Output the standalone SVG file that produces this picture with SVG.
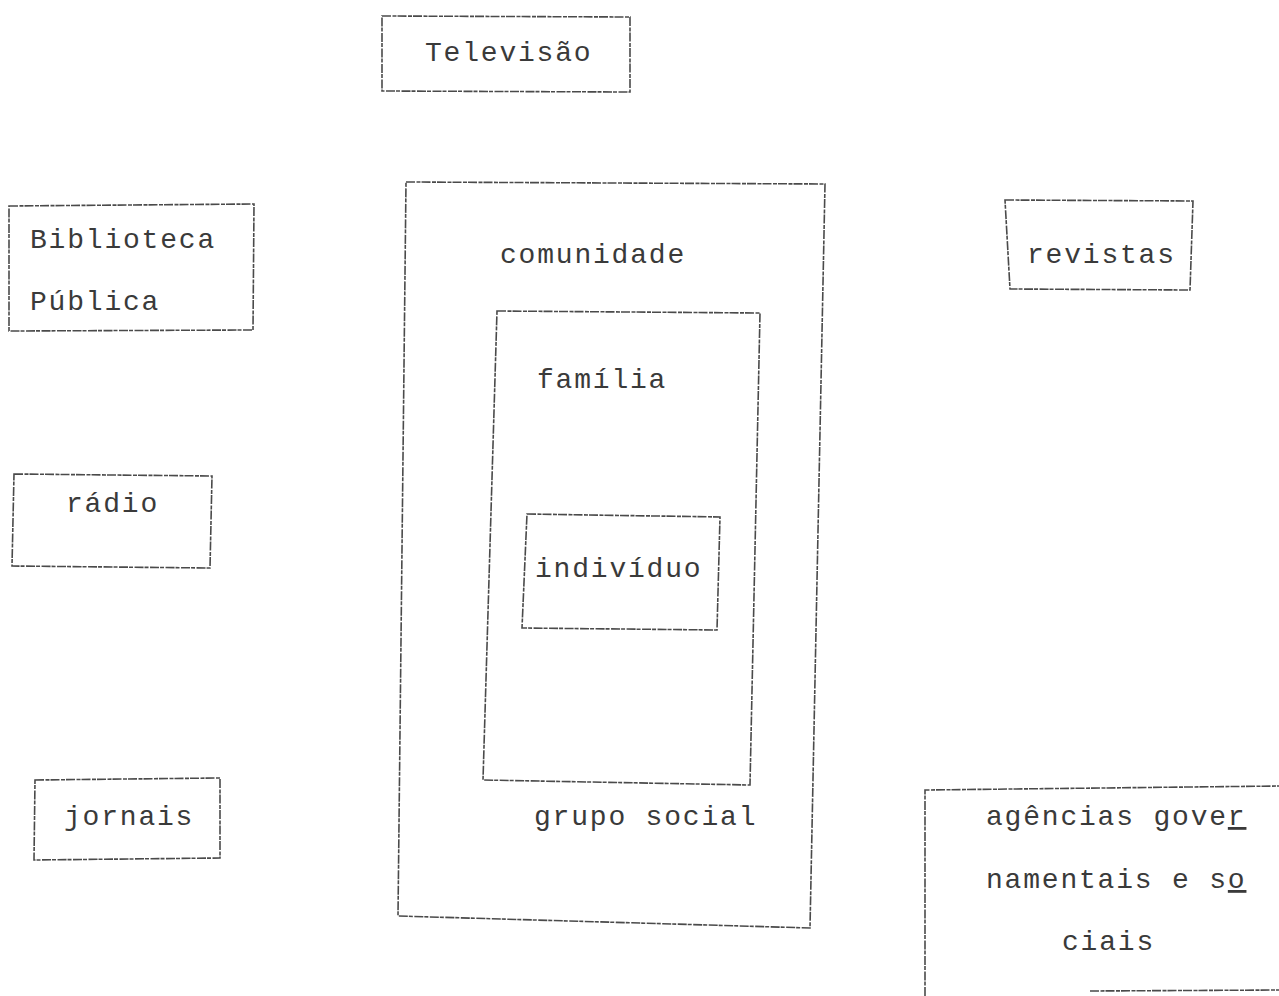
<svg xmlns="http://www.w3.org/2000/svg" width="1279" height="996" viewBox="0 0 1279 996">
<style>
.box{fill:none;stroke:#4a4a4a;stroke-width:1.6;stroke-dasharray:9 1.5 4 1}
.t{font-family:"Liberation Mono","DejaVu Sans Mono",monospace;font-size:28px;letter-spacing:1.8px;fill:#3a3a3a}
.u{text-decoration:underline}
</style>
<rect width="1279" height="996" fill="#ffffff"/>
<g id="televisao">
<path class="box" d="M382,16 L630,17 L630,92 L382,91 Z"/>
<text class="t" x="425" y="61">Televisão</text>
</g>
<g id="biblioteca">
<path class="box" d="M9,206 L254,204 L253,330 L9,331 Z"/>
<text class="t" x="30" y="248">Biblioteca</text>
<text class="t" x="30" y="310">Pública</text>
</g>
<g id="radio">
<path class="box" d="M14,474 L212,476 L210,568 L12,566 Z"/>
<text class="t" x="66" y="512">rádio</text>
</g>
<g id="jornais">
<path class="box" d="M35,780 L220,778 L220,858 L34,860 Z"/>
<text class="t" x="64" y="825">jornais</text>
</g>
<g id="comunidade">
<path class="box" d="M406,182 L825,184 L810,928 L398,916 Z"/>
<text class="t" x="500" y="263">comunidade</text>
</g>
<g id="familia">
<path class="box" d="M497,311 L760,313 L750,785 L483,780 Z"/>
<text class="t" x="537" y="388">família</text>
</g>
<g id="individuo">
<path class="box" d="M527,514 L720,517 L717,630 L522,628 Z"/>
<text class="t" x="535" y="577">indivíduo</text>
</g>
<g id="grupo-social">
<text class="t" x="534" y="825">grupo social</text>
</g>
<g id="revistas">
<path class="box" d="M1005,200 L1193,201 L1190,290 L1010,289 Z"/>
<text class="t" x="1027" y="263">revistas</text>
</g>
<g id="agencias">
<path class="box" d="M925,996 L925,790 L1279,786"/>
<path class="box" d="M1090,991 L1279,990"/>
<text class="t" x="986" y="825">agências gove<tspan class="u">r</tspan></text>
<text class="t" x="986" y="888">namentais e s<tspan class="u">o</tspan></text>
<text class="t" x="1062" y="950">ciais</text>
</g>
<g id="connectors"/>
</svg>
